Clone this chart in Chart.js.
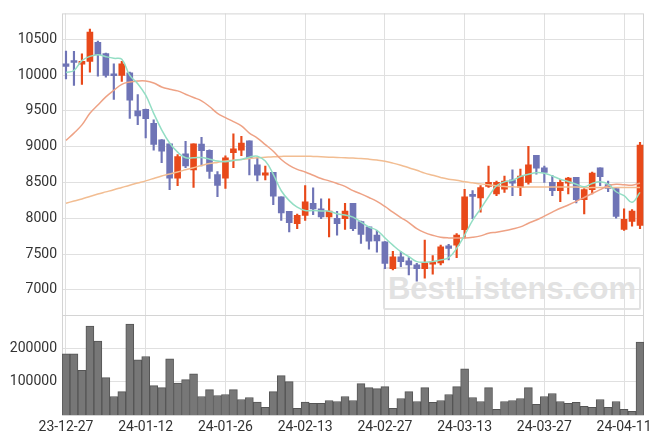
<!DOCTYPE html>
<html>
<head>
<meta charset="utf-8">
<script src="https://cdn.jsdelivr.net/npm/chart.js@4.4.0/dist/chart.umd.min.js"></script>
<style>
  html, body { margin: 0; padding: 0; background: #fff; }
  #wrap { position: relative; width: 663px; height: 444px; }
  #mark {
    position: absolute; left: 383px; top: 267px; width: 254px; height: 39px;
    border: 2px solid #e2e2e2; border-radius: 2px;
    font: bold 31px "Liberation Sans", Arial, sans-serif; color: #e2e2e2;
    text-align: center; line-height: 40px; z-index: 0;
  }
  canvas { position: absolute; left: 0; top: 0; z-index: 1; }
</style>
</head>
<body>
<div id="wrap">
  <div id="mark">BestListens.com</div>
  <canvas id="chart" width="663" height="444"></canvas>
</div>
<script>
// trading days
var dates = ['23-12-27','23-12-28','24-01-02','24-01-03','24-01-04','24-01-05','24-01-08','24-01-09','24-01-10','24-01-11',
  '24-01-12','24-01-15','24-01-16','24-01-17','24-01-18','24-01-19','24-01-22','24-01-23','24-01-24','24-01-25',
  '24-01-26','24-01-29','24-01-30','24-01-31','24-02-01','24-02-02','24-02-05','24-02-06','24-02-07','24-02-08',
  '24-02-13','24-02-14','24-02-15','24-02-16','24-02-19','24-02-20','24-02-21','24-02-22','24-02-23','24-02-26',
  '24-02-27','24-02-28','24-02-29','24-03-04','24-03-05','24-03-06','24-03-07','24-03-08','24-03-11','24-03-12',
  '24-03-13','24-03-14','24-03-15','24-03-18','24-03-19','24-03-20','24-03-21','24-03-22','24-03-25','24-03-26',
  '24-03-27','24-03-28','24-03-29','24-04-01','24-04-02','24-04-03','24-04-04','24-04-05','24-04-08','24-04-09',
  '24-04-11','24-04-12','24-04-15'];

var opens = [10155,10190,10150,10190,10455,10300,10000,9995,10030,9500,
  9520,9325,9095,9040,8560,8900,8675,9035,8950,8610,
  8560,8915,8950,9080,8745,8600,8640,8300,8095,7925,
  8040,8210,8130,8020,8000,7995,8210,7955,7880,7765,
  7670,7295,7460,7405,7350,7295,7360,7375,7615,7625,
  7840,8330,8285,8445,8340,8405,8535,8430,8500,8880,
  8705,8500,8385,8490,8570,8260,8400,8705,8470,8415,
  7845,7955,7900];
var highs = [10335,10330,10295,10640,10475,10305,10155,10190,10040,9725,
  9525,9375,9100,9040,8890,9075,9040,9130,8955,8650,
  8870,9180,9145,9080,8845,8730,8640,8300,8095,8060,
  8455,8425,8270,8270,8095,8210,8210,7960,7880,7830,
  7675,7540,7535,7450,7370,7695,7480,7625,7635,7785,
  8405,8385,8455,8730,8520,8590,8675,8685,9005,8880,
  8730,8600,8545,8570,8570,8415,8645,8705,8520,8420,
  8130,8120,9060];
var lows = [9945,9855,9870,10040,9985,9970,9660,9910,9395,9305,
  9120,8950,8775,8400,8455,8705,8430,8730,8555,8300,
  8415,8705,8875,8605,8520,8535,8190,7970,7810,7855,
  7970,8050,7995,7740,7765,7845,7825,7650,7570,7525,
  7295,7280,7325,7210,7120,7165,7220,7350,7420,7450,
  7725,7995,8085,8430,8315,8360,8315,8315,8475,8615,
  8500,8315,8230,8340,8215,8060,8340,8455,8370,8000,
  7830,7890,7855];
var closes = [10120,10175,10190,10600,10285,9995,9990,10155,9650,9430,
  9390,9030,8935,8560,8860,8730,9040,8945,8655,8460,
  8845,8970,9050,8845,8600,8635,8310,8075,7940,8040,
  8230,8130,8020,8100,7925,8100,7855,7775,7680,7685,
  7370,7460,7395,7350,7295,7375,7375,7600,7580,7765,
  8300,8305,8430,8500,8500,8520,8490,8590,8745,8700,
  8640,8385,8500,8560,8260,8400,8630,8580,8415,8025,
  7985,8100,9020];
var volumes = [185000,185000,135000,269000,224000,113000,56000,71000,275000,167000,
  177000,89000,83000,170000,97000,107000,125000,56000,77000,59000,
  62000,77000,47000,53000,39000,23000,71000,119000,101000,20000,
  39000,35000,35000,44000,41000,56000,44000,95000,83000,80000,
  86000,20000,50000,71000,41000,83000,38000,44000,62000,86000,
  140000,53000,41000,83000,17000,41000,44000,50000,83000,32000,
  56000,65000,41000,35000,38000,26000,23000,47000,23000,41000,
  17000,11000,221000];

// moving averages
var ma5 = [10035,10063,10201,10260,10284,10256,10233,10219,9994,9879,
  9718,9465,9235,9051,8923,8844,8844,8848,8825,8798,
  8789,8807,8821,8853,8867,8798,8614,8384,8246,8154,
  8108,8108,8103,8099,8062,8045,8016,7947,7878,7832,
  7726,7625,7533,7464,7395,7386,7395,7418,7450,7579,
  7763,7970,8131,8300,8453,8508,8531,8582,8614,8637,
  8628,8591,8545,8513,8476,8439,8485,8508,8476,8370,
  8315,8223,8361];
var ma20 = [9088,9189,9304,9465,9580,9695,9787,9870,9902,9916,
  9916,9888,9833,9801,9778,9732,9686,9640,9560,9465,
  9405,9350,9290,9189,9120,9028,8936,8821,8738,8683,
  8646,8600,8554,8522,8485,8445,8385,8340,8290,8235,
  8165,8085,8010,7940,7855,7800,7763,7735,7726,7726,
  7726,7735,7754,7790,7805,7825,7850,7880,7930,7975,
  8030,8085,8140,8185,8235,8290,8345,8400,8455,8475,
  8468,8462,8490];
var ma60 = [8210,8240,8269,8305,8338,8368,8398,8430,8462,8492,
  8522,8556,8591,8618,8646,8676,8706,8736,8763,8780,
  8798,8810,8821,8833,8844,8851,8858,8863,8867,8867,
  8867,8863,8858,8853,8849,8844,8840,8835,8825,8812,
  8795,8770,8740,8705,8670,8630,8600,8570,8545,8530,
  8510,8495,8480,8468,8455,8445,8440,8435,8435,8435,
  8435,8435,8435,8435,8435,8428,8428,8428,8428,8428,
  8428,8428,8428];

var priceTicks = [7000,7500,8000,8500,9000,9500,10000,10500];
var volumeTicks = [100000,200000];

var upColor = '#e8491a';
var downColor = '#6f74b6';
var candleColors = closes.map(function (c, i) { return c >= opens[i] ? upColor : downColor; });
var bodies = opens.map(function (o, i) { return [o, closes[i]]; });
var wicks = lows.map(function (l, i) { return [l, highs[i]]; });

var tickFont = { family: 'Roboto', size: 14 };
function plainNumber(value) { return String(value); }

// box round the plot and the line between the two panels
var framePlugin = {
  id: 'frame',
  beforeDatasetsDraw: function (chart) {
    var a = chart.chartArea, c = chart.ctx;
    var sep = chart.scales.y.bottom;
    c.save();
    c.strokeStyle = '#d4d4d4';
    c.lineWidth = 1;
    c.strokeRect(a.left + 0.5, a.top + 0.5, a.right - a.left - 1, a.bottom - a.top);
    c.beginPath();
    c.moveTo(a.left, Math.round(sep) + 0.5);
    c.lineTo(a.right, Math.round(sep) + 0.5);
    c.stroke();
    c.restore();
  }
};

var ctx = document.getElementById('chart').getContext('2d');
var chart = new Chart(ctx, {
  type: 'bar',
  data: {
    labels: dates,
    datasets: [
      { type: 'line', label: 'MA5', data: ma5, yAxisID: 'y', borderColor: '#93dec4', borderWidth: 1.5,
        pointRadius: 0, tension: 0.4, order: 0 },
      { type: 'line', label: 'MA20', data: ma20, yAxisID: 'y', borderColor: '#eea285', borderWidth: 1.5,
        pointRadius: 0, tension: 0.4, order: 1 },
      { type: 'line', label: 'MA60', data: ma60, yAxisID: 'y', borderColor: '#f2bd92', borderWidth: 1.5,
        pointRadius: 0, tension: 0.4, order: 2 },
      { label: 'body', data: bodies, yAxisID: 'y', backgroundColor: candleColors, barThickness: 6,
        minBarLength: 2, grouped: false, order: 3 },
      { label: 'wick', data: wicks, yAxisID: 'y', backgroundColor: candleColors, barThickness: 1.5,
        grouped: false, order: 4 },
      { label: 'volume', data: volumes, yAxisID: 'y2', backgroundColor: '#777777', borderColor: '#555555',
        borderWidth: 1, barPercentage: 1, categoryPercentage: 1, grouped: false, order: 5 }
    ]
  },
  options: {
    responsive: false,
    animation: false,
    layout: { padding: { top: 9, right: 19, left: 0, bottom: 0 } },
    plugins: { legend: { display: false }, tooltip: { enabled: false } },
    scales: {
      x: {
        offset: true,
        grid: { color: '#e0e0e0', offset: false, drawTicks: false },
        border: { display: false },
        ticks: { font: tickFont, color: '#333', padding: 4, autoSkip: false, maxRotation: 0 },
        afterBuildTicks: function (axis) {
          axis.ticks = axis.ticks.filter(function (t) { return t.value % 10 === 0; });
        },
        afterFit: function (axis) { axis.height = 29; }
      },
      y: {
        position: 'left', stack: 'panels', stackWeight: 3, weight: 2,
        min: 6655, max: 10860,
        grid: { color: '#e0e0e0', drawTicks: false },
        border: { display: false },
        ticks: { font: tickFont, color: '#333', padding: 5, stepSize: 500, includeBounds: false,
          callback: plainNumber },
        afterBuildTicks: function (axis) {
          axis.ticks = priceTicks.map(function (v) { return { value: v }; });
        },
        afterFit: function (axis) { axis.width = 62; }
      },
      y2: {
        position: 'left', stack: 'panels', stackWeight: 1, weight: 1,
        min: 0, max: 304000,
        grid: { color: '#e0e0e0', drawTicks: false },
        border: { display: false },
        ticks: { font: tickFont, color: '#333', padding: 5, stepSize: 100000, includeBounds: false,
          callback: plainNumber },
        afterBuildTicks: function (axis) {
          axis.ticks = volumeTicks.map(function (v) { return { value: v }; });
        },
        afterFit: function (axis) { axis.width = 62; }
      }
    }
  },
  plugins: [framePlugin]
});
</script>
</body>
</html>
